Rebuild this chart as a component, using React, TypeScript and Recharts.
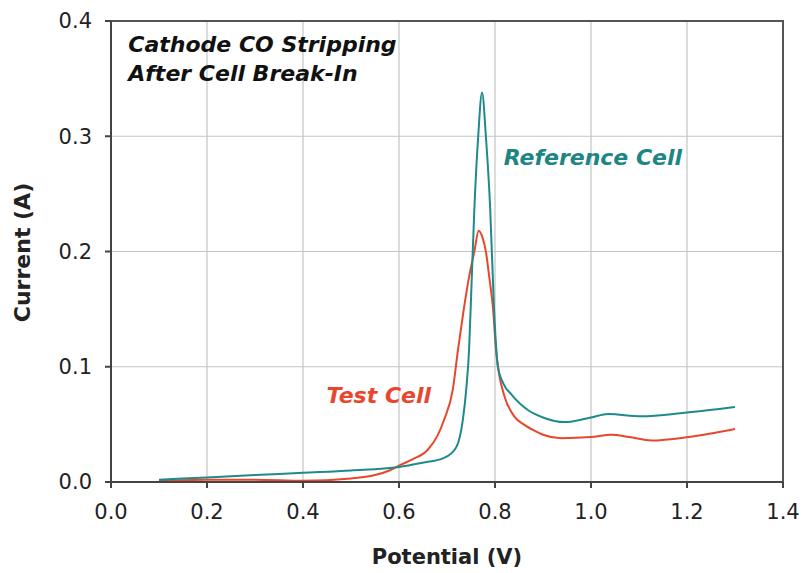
import React from 'react';
import { LineChart, Line, XAxis, YAxis, CartesianGrid, ReferenceArea, ReferenceDot } from 'recharts';

// Reference Cell (teal)
const refX = [0.10, 0.20, 0.30, 0.40, 0.50, 0.60, 0.646, 0.694, 0.719, 0.733, 0.740, 0.746, 0.751, 0.757, 0.765, 0.773, 0.781, 0.790, 0.798, 0.806, 0.818, 0.834, 0.870, 0.900, 0.945, 1.00, 1.036, 1.105, 1.195, 1.30];
const refY = [0.002, 0.004, 0.006, 0.008, 0.010, 0.013, 0.0165, 0.021, 0.030, 0.054, 0.080, 0.115, 0.17, 0.237, 0.30, 0.338, 0.30, 0.237, 0.15, 0.10, 0.085, 0.076, 0.062, 0.056, 0.052, 0.056, 0.059, 0.057, 0.060, 0.065];

// Test Cell (red)
const testX = [0.10, 0.20, 0.30, 0.40, 0.50, 0.55, 0.58, 0.604, 0.63, 0.66, 0.68, 0.694, 0.712, 0.723, 0.735, 0.746, 0.757, 0.766, 0.774, 0.781, 0.788, 0.796, 0.802, 0.808, 0.82, 0.84, 0.86, 0.88, 0.90, 0.938, 1.0, 1.042, 1.08, 1.126, 1.203, 1.30];
const testY = [0.001, 0.002, 0.002, 0.001, 0.003, 0.006, 0.010, 0.015, 0.020, 0.028, 0.040, 0.054, 0.080, 0.115, 0.15, 0.178, 0.20, 0.218, 0.212, 0.20, 0.178, 0.15, 0.115, 0.095, 0.074, 0.057, 0.050, 0.045, 0.041, 0.038, 0.039, 0.041, 0.039, 0.036, 0.039, 0.046];

const xTicks = [0, 0.2, 0.4, 0.6, 0.8, 1.0, 1.2, 1.4];
const yTicks = [0, 0.1, 0.2, 0.3, 0.4];

const refData = refX.map((x, i) => ({ x, y: refY[i] }));
const testData = testX.map((x, i) => ({ x, y: testY[i] }));

const TEAL = '#1f8a8a';
const RED = '#e8472d';
const FONT = '"DejaVu Sans", "Liberation Sans", Arial, sans-serif';

const YTitle = (props: any) => {
  const vb = props.viewBox || { x: 0, y: 0, width: 0, height: 0 };
  const cx = vb.x + 22;
  const cy = vb.y + vb.height / 2 + 1;
  return (
    <text x={cx} y={cy} transform={`rotate(-90 ${cx} ${cy})`} textAnchor="middle" dominantBaseline="central"
      fontSize={22} fontWeight="bold" fill="#222" fontFamily={FONT}>Current (A)</text>
  );
};

const XTitle = (props: any) => {
  const vb = props.viewBox || { x: 0, y: 0, width: 0, height: 0 };
  const cx = vb.x + vb.width / 2;
  const cy = vb.y + 75;
  return (
    <text x={cx} y={cy} textAnchor="middle" dominantBaseline="central"
      fontSize={21} fontWeight="bold" fill="#222" fontFamily={FONT}>Potential (V)</text>
  );
};

const annot = (value: string, fill: string) => ({
  value,
  position: 'right' as const,
  offset: 0,
  fill,
  fontSize: 22,
  fontWeight: 'bold',
  fontStyle: 'italic',
  fontFamily: FONT,
});

export default function App() {
  return (
    <div style={{ position: 'absolute', left: 0, top: 0, background: '#fff' }}>
      <LineChart width={802} height={573} margin={{ top: 21, right: 19, left: 0, bottom: 0 }} style={{ fontFamily: FONT }}>
        <CartesianGrid stroke="#c4c4c4" strokeWidth={1.2} />
        <XAxis
          type="number"
          dataKey="x"
          domain={[0, 1.4]}
          ticks={xTicks}
          tickFormatter={(v: number) => v.toFixed(1)}
          height={91}
          tickSize={6}
          tickMargin={16}
          stroke="#444"
          strokeWidth={2}
          tick={{ fill: '#222', fontSize: 21, fontFamily: FONT }}
          label={<XTitle />}
        />
        <YAxis
          type="number"
          dataKey="y"
          domain={[0, 0.4]}
          ticks={yTicks}
          tickFormatter={(v: number) => v.toFixed(1)}
          width={111}
          tickSize={6}
          tickMargin={13}
          stroke="#444"
          strokeWidth={2}
          tick={{ fill: '#222', fontSize: 21, fontFamily: FONT }}
          label={<YTitle />}
        />
        <ReferenceArea x1={0} x2={1.4} y1={0} y2={0.4} fill="none" stroke="#555" strokeWidth={2} />
        <Line data={testData} dataKey="y" type="monotone" stroke={RED} strokeWidth={2} dot={false} isAnimationActive={false} />
        <Line data={refData} dataKey="y" type="monotone" stroke={TEAL} strokeWidth={2} dot={false} isAnimationActive={false} />
        <ReferenceDot x={0.036} y={0.380} r={0} fill="none" stroke="none" label={annot('Cathode CO Stripping', '#111')} />
        <ReferenceDot x={0.036} y={0.355} r={0} fill="none" stroke="none" label={annot('After Cell Break-In', '#111')} />
        <ReferenceDot x={0.818} y={0.282} r={0} fill="none" stroke="none" label={annot('Reference Cell', '#1e8585')} />
        <ReferenceDot x={0.449} y={0.0755} r={0} fill="none" stroke="none" label={annot('Test Cell', RED)} />
      </LineChart>
    </div>
  );
}
